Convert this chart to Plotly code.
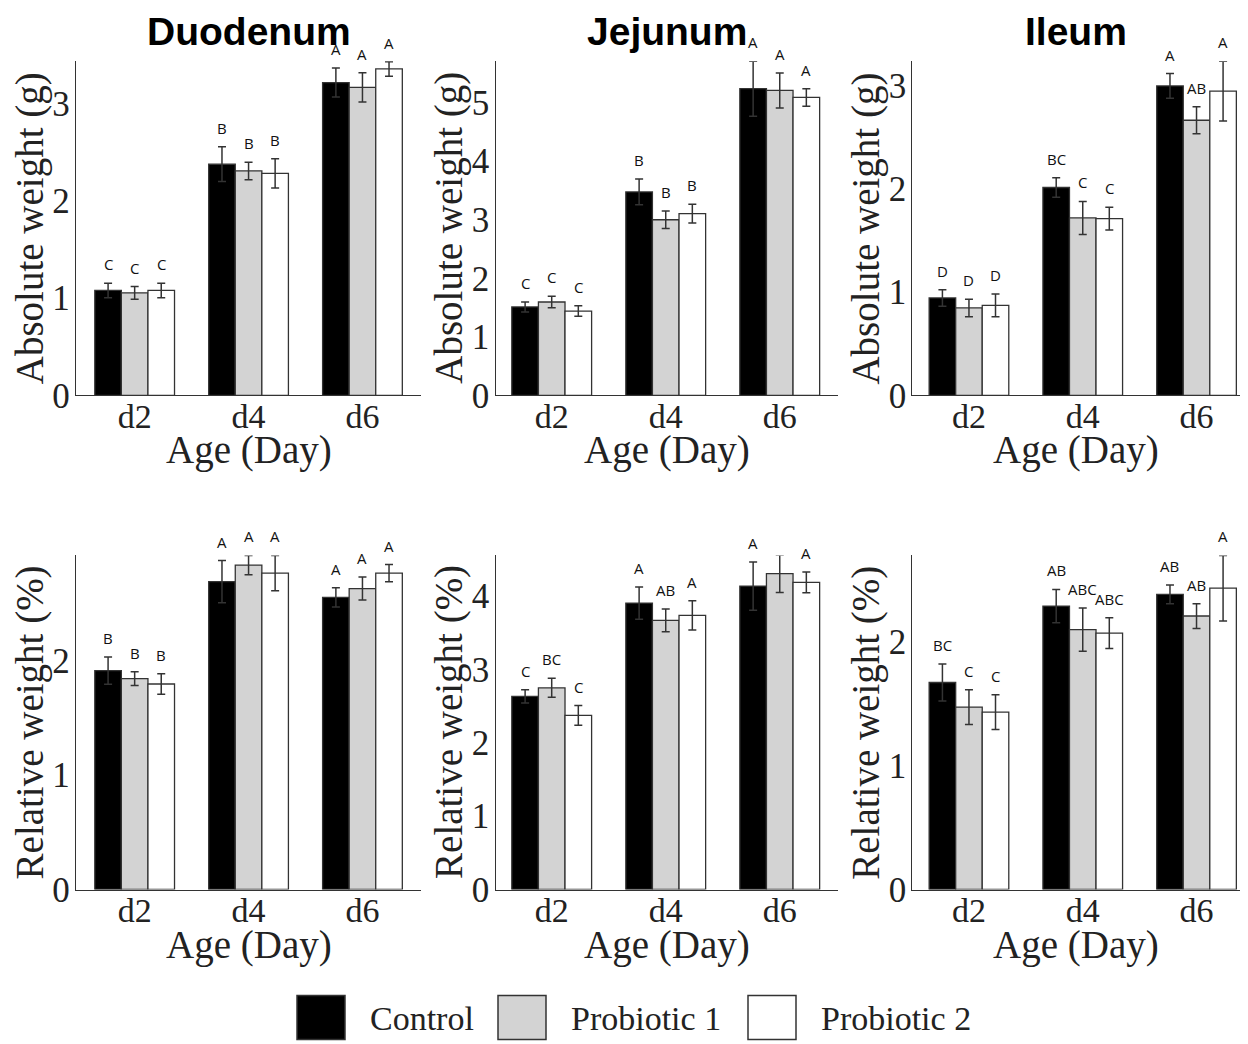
import plotly.graph_objects as go

# ---------------- data ----------------
days = ["d2", "d4", "d6"]
groups = ["Control", "Probiotic 1", "Probiotic 2"]
fill_colors = ["#000000", "#d3d3d3", "#ffffff"]
segments = ["Duodenum", "Jejunum", "Ileum"]

# Absolute weight (g): rows = groups (Control, Probiotic 1, Probiotic 2), cols = days
duo_abs_mean = [[1.08, 2.38, 3.22], [1.055, 2.31, 3.17], [1.08, 2.285, 3.36]]
duo_abs_se = [[0.075, 0.18, 0.15], [0.065, 0.09, 0.15], [0.075, 0.15, 0.075]]
duo_abs_letters = [["C", "B", "A"], ["C", "B", "A"], ["C", "B", "A"]]

jej_abs_mean = [[1.51, 3.475, 5.24], [1.595, 3.0, 5.21], [1.44, 3.105, 5.09]]
jej_abs_se = [[0.085, 0.22, 0.47], [0.10, 0.15, 0.30], [0.09, 0.16, 0.15]]
jej_abs_letters = [["C", "B", "A"], ["C", "B", "A"], ["C", "B", "A"]]

ile_abs_mean = [[0.944, 2.015, 3.00], [0.847, 1.72, 2.667], [0.873, 1.714, 2.95]]
ile_abs_se = [[0.08, 0.095, 0.12], [0.085, 0.16, 0.13], [0.11, 0.11, 0.29]]
ile_abs_letters = [["D", "BC", "A"], ["D", "C", "AB"], ["D", "C", "A"]]

# Relative weight (%)
duo_rel_mean = [[1.913, 2.69, 2.553], [1.843, 2.835, 2.63], [1.796, 2.765, 2.765]]
duo_rel_se = [[0.12, 0.185, 0.085], [0.06, 0.085, 0.10], [0.09, 0.155, 0.075]]
duo_rel_letters = [["B", "A", "A"], ["B", "A", "A"], ["B", "A", "A"]]

jej_rel_mean = [[2.633, 3.906, 4.137], [2.75, 3.67, 4.306], [2.374, 3.738, 4.188]]
jej_rel_se = [[0.09, 0.22, 0.33], [0.13, 0.155, 0.255], [0.135, 0.2, 0.14]]
jej_rel_letters = [["C", "A", "A"], ["BC", "AB", "A"], ["C", "A", "A"]]

ile_rel_mean = [[1.673, 2.29, 2.385], [1.474, 2.10, 2.21], [1.433, 2.072, 2.435]]
ile_rel_se = [[0.15, 0.135, 0.075], [0.14, 0.175, 0.10], [0.14, 0.125, 0.265]]
ile_rel_letters = [["BC", "AB", "AB"], ["C", "ABC", "AB"], ["C", "ABC", "A"]]

abs_ymax = [3.44, 5.71, 3.24]
rel_ymax = [2.92, 4.556, 2.70]
abs_ticks = [[0, 1, 2, 3], [0, 1, 2, 3, 4, 5], [0, 1, 2, 3]]
rel_ticks = [[0, 1, 2], [0, 1, 2, 3, 4], [0, 1, 2]]

y_titles = ["Absolute weight (g)", "Relative weight (%)"]
x_title = "Age (Day)"

# ---------------- layout helpers ----------------
# page has an 8px body margin; the photographed page is slightly taller
# than the picture, so vertical target positions are divided by KY
OFF = 8
KY = 0.9805
W, H = 1232, 1047
def px(x):
    return (x - OFF) / W
def py(y):
    return 1 - (y / KY - OFF) / H

col_px = [(76, 421), (495.5, 838), (912.3, 1240)]
col_xrange = [[-0.515, 2.514], [-0.493, 2.511], [-0.498, 2.382]]
row_px = [(61, 395), (555, 889)]

panels = [
    (0, 0, duo_abs_mean, duo_abs_se, duo_abs_letters, abs_ymax[0], abs_ticks[0]),
    (0, 1, jej_abs_mean, jej_abs_se, jej_abs_letters, abs_ymax[1], abs_ticks[1]),
    (0, 2, ile_abs_mean, ile_abs_se, ile_abs_letters, abs_ymax[2], abs_ticks[2]),
    (1, 0, duo_rel_mean, duo_rel_se, duo_rel_letters, rel_ymax[0], rel_ticks[0]),
    (1, 1, jej_rel_mean, jej_rel_se, jej_rel_letters, rel_ymax[1], rel_ticks[1]),
    (1, 2, ile_rel_mean, ile_rel_se, ile_rel_letters, rel_ymax[2], rel_ticks[2]),
]

SERIF = "Liberation Serif"
SANS = "Liberation Sans"
INK = "#222222"
LINE = "#333333"
bargap = 0.3
bar_w = (1 - bargap) / len(groups)

fig = go.Figure()
layout = dict(
    width=W, height=H,
    margin=dict(l=0, r=0, t=0, b=0),
    paper_bgcolor="white", plot_bgcolor="white",
    barmode="group", bargap=bargap, bargroupgap=0,
    showlegend=False,
)
annotations = []
shapes = []

for k, (r, c, means, ses, letters, ymax, ticks) in enumerate(panels):
    idx = k + 1
    xa = "x" if idx == 1 else f"x{idx}"
    ya = "y" if idx == 1 else f"y{idx}"
    for g, name in enumerate(groups):
        fig.add_trace(go.Bar(
            x=days, y=means[g], name=name,
            xaxis=xa, yaxis=ya,
            offsetgroup=str(g),
            marker=dict(color=fill_colors[g], line=dict(color=LINE, width=1.3)),
            error_y=dict(type="data", array=ses[g], color=LINE, thickness=1.5, width=4),
            showlegend=False,
        ))
        for d in range(len(days)):
            annotations.append(dict(
                x=d + (g - 1) * bar_w, y=means[g][d] + ses[g][d],
                xref=xa, yref=ya, text=letters[g][d], showarrow=False,
                xanchor="center", yanchor="bottom", yshift=7,
                font=dict(family="Open Sans", size=15, color="#111111"),
            ))
    x0, x1 = col_px[c]
    y0, y1 = row_px[r]
    layout["xaxis" if idx == 1 else f"xaxis{idx}"] = dict(
        domain=[px(x0), px(x1)], anchor=ya, type="category",
        range=col_xrange[c], showline=True, linecolor=LINE, linewidth=1.3,
        showgrid=False, zeroline=False, ticks="", ticklabelstandoff=-9,
        tickfont=dict(family=SERIF, size=34, color=INK), fixedrange=True,
    )
    layout["yaxis" if idx == 1 else f"yaxis{idx}"] = dict(
        domain=[py(y1), py(y0)], anchor=xa, range=[0, ymax],
        tickvals=ticks, showline=True, linecolor=LINE, linewidth=1.3,
        showgrid=False, zeroline=False, ticks="", ticklabelstandoff=-2,
        tickfont=dict(family=SERIF, size=35, color=INK), fixedrange=True,
    )
    # axis titles
    cx = (x0 + min(x1, x0 + 345)) / 2
    annotations.append(dict(
        x=px(cx), y=py(y1 + 55), xref="paper", yref="paper",
        text=x_title, showarrow=False, xanchor="center", yanchor="middle",
        font=dict(family=SERIF, size=39, color=INK),
    ))
    annotations.append(dict(
        x=px(x0 - 46), y=py((y0 + y1) / 2), xref="paper", yref="paper",
        text=y_titles[r], showarrow=False, textangle=-90,
        xanchor="center", yanchor="middle",
        font=dict(family=SERIF, size=39, color=INK),
    ))
    if r == 0:
        annotations.append(dict(
            x=px(cx), y=py(31), xref="paper", yref="paper",
            text=f"<b>{segments[c]}</b>", showarrow=False,
            xanchor="center", yanchor="middle",
            font=dict(family=SANS, size=39, color="#000000"),
        ))

# custom legend (large swatches)
legend_swatch_x = [297, 498, 748]
for g, name in enumerate(groups):
    sx = legend_swatch_x[g]
    shapes.append(dict(
        type="rect", xref="paper", yref="paper",
        x0=px(sx), x1=px(sx + 48), y0=py(1039), y1=py(995),
        fillcolor=fill_colors[g], line=dict(color=LINE, width=1.5),
    ))
    annotations.append(dict(
        x=px(sx + 71), y=py(1018), xref="paper", yref="paper",
        text=name, showarrow=False, xanchor="left", yanchor="middle",
        font=dict(family=SERIF, size=34, color=INK),
    ))

layout["annotations"] = annotations
layout["shapes"] = shapes
fig.update_layout(**layout)
fig.write_html("out.html")
